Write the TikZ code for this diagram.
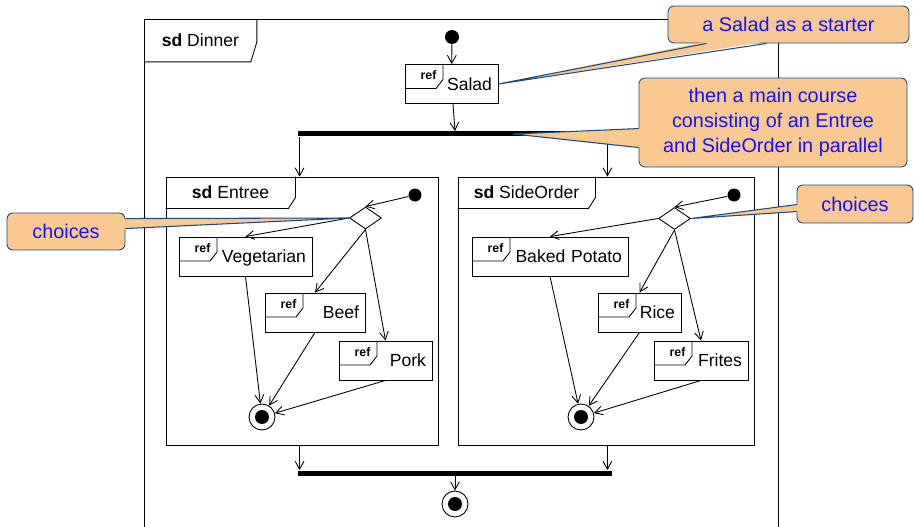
\documentclass[tikz,border=0pt]{standalone}
\usepackage{fontspec}
\setmainfont{Liberation Sans}
\usetikzlibrary{arrows.meta,shapes.geometric}
\definecolor{notefill}{RGB}{250,200,145}
\definecolor{noteline}{RGB}{31,73,125}
\definecolor{notetext}{RGB}{20,20,240}

\begin{document}
\begin{tikzpicture}[
    x=0.02cm, y=-0.02cm,
    >={Straight Barb[length=4.5pt,width=5pt]},
    line width=0.5pt,
    font=\fontsize{10}{12}\selectfont,
    start/.style={circle, fill, inner sep=0pt, minimum size=0.26cm},
    stop/.style={circle, draw, inner sep=0pt, minimum size=0.52cm,
        path picture={\fill (path picture bounding box.center) circle (0.14cm);}},
    choice/.style={diamond, draw, inner sep=0pt, minimum width=0.64cm, minimum height=0.44cm},
    bar/.style={rectangle, fill, inner sep=0pt, minimum height=0.1cm},
    frame/.style={rectangle, draw, inner sep=0pt},
    sdtab/.style={rectangle, anchor=north west, inner sep=0pt, minimum height=0.62cm},
    refbox/.style={rectangle, draw, text width=#1, align=right, text depth=0pt,
        inner xsep=0.12cm, inner ysep=0pt, minimum height=0.78cm,
        path picture={
            \draw ([yshift=-0.48cm]path picture bounding box.north west) -- ++(0.62cm,0)
                -- ++(0.14cm,0.18cm) -- ([xshift=0.76cm]path picture bounding box.north west);
            \node[font=\fontsize{7}{8}\selectfont\bfseries, text width=0.6cm, align=center, inner sep=0pt]
                at ([xshift=0.47cm,yshift=-0.22cm]path picture bounding box.north west) {ref};
        }},
    note/.style={rectangle, rounded corners=0.12cm, draw=noteline, fill=notefill, text=notetext,
        align=center, inner sep=0pt, font=\fontsize{11.3}{14.2}\selectfont},
    tip/.style={draw=noteline, line width=0.6pt}
    ]
    \useasboundingbox (0,0) rectangle (914,527);

    \draw (144,527) -- (144,19) -- (778,19) -- (778,527);
    \node[sdtab, minimum width=2.24cm, minimum height=0.84cm] (dinnertab) at (144,19) {\textbf{sd} Dinner};
    \draw (dinnertab.north east) -- ++(0,23) -- ([xshift=-0.12cm]dinnertab.south east) -- (dinnertab.south west);

    \node[start, minimum size=0.28cm] (dstart) at (452,37) {};
    \node[refbox=1.62cm] (salad) at (451.5,84) {Salad};
    \node[bar, minimum width=6.28cm] (fork) at (455,134) {};
    \node[bar, minimum width=6.28cm] (join) at (455,473) {};
    \node[stop] (dstop) at (455,504) {};

    \node[frame, minimum width=5.44cm, minimum height=5.36cm] (entree) at (302,311) {};
    \node[sdtab, minimum width=2.58cm] (entreetab) at (entree.north west) {\textbf{sd} Entree};
    \draw (entreetab.north east) -- ++(0,21) -- ([xshift=-0.14cm]entreetab.south east) -- (entreetab.south west);

    \node[frame, minimum width=5.92cm, minimum height=5.36cm] (side) at (606,311) {};
    \node[sdtab, minimum width=2.74cm] (sidetab) at (side.north west) {\textbf{sd} SideOrder};
    \draw (sidetab.north east) -- ++(0,21) -- ([xshift=-0.14cm]sidetab.south east) -- (sidetab.south west);

    \node[start] (estart) at (415,195) {};
    \node[choice] (edec) at (365.5,218) {};
    \node[refbox=2.42cm] (veg) at (245.5,256.5) {Vegetarian};
    \node[refbox=1.76cm] (beef) at (315,312.5) {Beef};
    \node[refbox=1.62cm] (pork) at (385.5,360.5) {Pork};
    \node[stop] (estop) at (262,417) {};

    \node[start] (sstart) at (734,195) {};
    \node[choice] (sdec) at (674.5,218.5) {};
    \node[refbox=2.88cm] (potato) at (550,256.5) {Baked Potato};
    \node[refbox=1.42cm] (rice) at (639.5,312.5) {Rice};
    \node[refbox=1.64cm] (frites) at (701,360.5) {Frites};
    \node[stop] (sstop) at (581,417) {};

    \draw[->] (dstart) -- (salad);
    \draw[->] (salad) -- (fork.north);
    \draw[->] ([xshift=0.04cm]fork.south west) -- ([xshift=0.04cm]fork.south west |- entree.north);
    \draw[->] ([xshift=-0.1cm]fork.south east) -- ([xshift=-0.1cm]fork.south east |- side.north);
    \draw[->] ([xshift=0.04cm]join.north west |- entree.south) -- ([xshift=0.04cm]join.north west);
    \draw[->] ([xshift=-0.1cm]join.north east |- side.south) -- ([xshift=-0.1cm]join.north east);
    \draw[->] (join) -- (dstop);

    \draw[->] (estart) -- (edec.north);
    \draw[->] (edec.west) -- (veg.north);
    \draw[->] (edec.south) -- (beef.north);
    \draw[->] (edec.south) -- (pork.north);
    \draw[->] (veg.south) -- (estop);
    \draw[->] (beef.south) -- (estop);
    \draw[->] (pork.south) -- (estop);

    \draw[->] (sstart) -- (sdec.north);
    \draw[->] (sdec.west) -- (potato.north);
    \draw[->] (sdec.south) -- (rice.north);
    \draw[->] (sdec.south) -- (frites.north);
    \draw[->] (potato.south) -- (sstop);
    \draw[->] (rice.south) -- (sstop);
    \draw[->] (frites.south) -- (sstop);

    \node[note, minimum width=4.82cm, minimum height=0.74cm] (note1) at (788.5,24.5) {a Salad as a starter};
    \fill[notefill] ([xshift=0.78cm,yshift=0.04cm]note1.south west) -- (salad.east) -- ([xshift=1.98cm,yshift=0.04cm]note1.south west) -- cycle;
    \draw[tip] ([xshift=0.78cm]note1.south west) -- (salad.east) -- ([xshift=1.98cm]note1.south west);

    \node[note, minimum width=5.36cm, minimum height=1.78cm] (note2) at (773,122.5) {then a main course\\consisting of an Entree\\and SideOrder in parallel};
    \coordinate (forktip) at ([xshift=-1.98cm]fork.east);
    \fill[notefill] ([xshift=0.04cm,yshift=-1.02cm]note2.north west) -- (forktip) -- ([xshift=0.04cm,yshift=-1.4cm]note2.north west) -- cycle;
    \draw[tip] ([yshift=-1.02cm]note2.north west) -- (forktip) -- ([yshift=-1.4cm]note2.north west);

    \node[note, minimum width=2.36cm, minimum height=0.74cm] (note3) at (66,231.5) {choices};
    \fill[notefill] ([xshift=-0.04cm,yshift=-0.12cm]note3.north east) -- (edec.west) -- ([xshift=-0.04cm,yshift=-0.32cm]note3.north east) -- cycle;
    \draw[tip] ([yshift=-0.12cm]note3.north east) -- (edec.west) -- ([yshift=-0.32cm]note3.north east);

    \node[note, minimum width=2.32cm, minimum height=0.76cm] (note4) at (855,204) {choices};
    \fill[notefill] ([xshift=0.04cm,yshift=-0.4cm]note4.north west) -- (sdec.east) -- ([xshift=0.04cm,yshift=-0.54cm]note4.north west) -- cycle;
    \draw[tip] ([yshift=-0.4cm]note4.north west) -- (sdec.east) -- ([yshift=-0.54cm]note4.north west);
\end{tikzpicture}
\end{document}
